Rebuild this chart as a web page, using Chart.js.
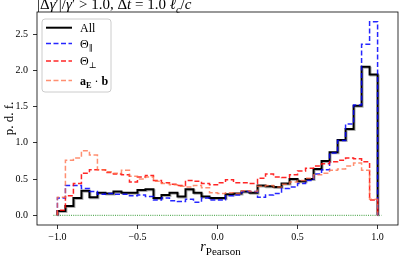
<!DOCTYPE html>
<html>
<head>
<meta charset="utf-8">
<script src="https://cdn.jsdelivr.net/npm/chart.js@4.4.1/dist/chart.umd.min.js"></script>
<style>
  html, body { margin: 0; padding: 0; background: #fff; }
  #wrap { width: 399px; height: 257px; }
</style>
</head>
<body>
<div id="wrap"><canvas id="myChart"></canvas></div>
<script>
// histogram bin edges (r_Pearson), 0.05 wide
const binEdges = [-1.0, -0.95, -0.9, -0.85, -0.8, -0.75, -0.7, -0.65, -0.6, -0.55,
                  -0.5, -0.45, -0.4, -0.35, -0.3, -0.25, -0.2, -0.15, -0.1, -0.05,
                  0.0, 0.05, 0.1, 0.15, 0.2, 0.25, 0.3, 0.35, 0.4, 0.45,
                  0.5, 0.55, 0.6, 0.65, 0.7, 0.75, 0.8, 0.85, 0.9, 0.95, 1.0];

const allPdf = [0.06, 0.13, 0.24, 0.34, 0.25, 0.31, 0.30, 0.33, 0.31, 0.31,
                0.35, 0.36, 0.24, 0.28, 0.31, 0.26, 0.36, 0.31, 0.26, 0.24,
                0.24, 0.29, 0.30, 0.33, 0.31, 0.41, 0.40, 0.39, 0.44, 0.50,
                0.47, 0.50, 0.64, 0.75, 0.87, 1.04, 1.19, 1.51, 2.05, 1.94];

const thetaParPdf = [0.24, 0.41, 0.41, 0.37, 0.33, 0.29, 0.30, 0.29, 0.29, 0.27,
                     0.28, 0.26, 0.21, 0.24, 0.20, 0.19, 0.22, 0.18, 0.24, 0.21,
                     0.21, 0.27, 0.28, 0.33, 0.33, 0.25, 0.28, 0.30, 0.37, 0.39,
                     0.44, 0.48, 0.57, 0.63, 0.86, 1.03, 1.26, 1.52, 2.36, 2.67];

const thetaPerpPdf = [0.07, 0.27, 0.44, 0.58, 0.63, 0.63, 0.59, 0.57, 0.56, 0.46,
                      0.53, 0.55, 0.48, 0.45, 0.43, 0.41, 0.48, 0.47, 0.44, 0.42,
                      0.45, 0.49, 0.45, 0.45, 0.44, 0.51, 0.57, 0.53, 0.52, 0.56,
                      0.61, 0.65, 0.68, 0.71, 0.74, 0.76, 0.79, 0.78, 0.74, 0.21];

const aEbPdf = [0.25, 0.76, 0.79, 0.89, 0.83, 0.63, 0.60, 0.58, 0.62, 0.54,
                0.50, 0.53, 0.47, 0.44, 0.42, 0.40, 0.39, 0.41, 0.38, 0.31,
                0.30, 0.31, 0.30, 0.34, 0.33, 0.40, 0.41, 0.39, 0.43, 0.46,
                0.48, 0.51, 0.56, 0.58, 0.62, 0.64, 0.68, 0.72, 0.62, 0.22];

const zeroLineX = [-1.025, 1.025];
const xTicks = [-1.0, -0.5, 0.0, 0.5, 1.0];
const yTicks = [0.0, 0.5, 1.0, 1.5, 2.0, 2.5];

const SERIF = '"Liberation Serif", "DejaVu Serif", serif';

// step outline: up from 0 at first edge, flat over each bin, back to 0 at last edge
function stepPoints(vals) {
    const pts = [{ x: binEdges[0], y: 0 }];
    vals.forEach((v, i) => pts.push({ x: binEdges[i], y: v }));
    pts.push({ x: binEdges[binEdges.length - 1], y: 0 });
    return pts;
}

const series = [
    { label: 'All', data: allPdf, color: '#000000', width: 2, dash: [], order: 4 },
    { label: 'Θ∥', data: thetaParPdf, color: 'rgba(0,0,255,0.85)', width: 1.5, dash: [5, 2.5], order: 3 },
    { label: 'Θ⊥', data: thetaPerpPdf, color: 'rgba(255,0,0,0.85)', width: 1.5, dash: [5, 2.5], order: 2 },
    { label: 'aE · b', data: aEbPdf, color: 'rgba(255,105,65,0.75)', width: 1.5, dash: [5, 2.5], order: 1 }
];

// draw text made of styled pieces (italic / bold / subscript)
function richText(ctx, x, y, parts, size, subScale, subDrop) {
    subScale = subScale || 0.7;
    subDrop = subDrop || 0.25;
    let cx = x;
    parts.forEach(p => {
        const s = p.sub ? size * subScale : size;
        const st = (p.i ? 'italic ' : '') + (p.b ? 'bold ' : '');
        ctx.font = `${st}${s}px ${SERIF}`;
        ctx.fillText(p.t, cx, p.sub ? y + size * subDrop : y);
        cx += ctx.measureText(p.t).width;
    });
    return cx;
}

const extras = {
    id: 'extras',
    beforeDatasetDraw(chart, args) {
        if (args.index === 0) {
            const ctx = chart.ctx;
            ctx.save();
            ctx.shadowColor = 'rgba(120,120,120,0.6)';
            ctx.shadowOffsetX = 1;
            ctx.shadowOffsetY = 1;
        }
    },
    afterDatasetDraw(chart, args) {
        if (args.index === 0) chart.ctx.restore();
    },
    afterDraw(chart) {
        const ctx = chart.ctx;
        const a = chart.chartArea;
        ctx.save();
        // spines
        ctx.strokeStyle = '#000';
        ctx.lineWidth = 0.8;
        ctx.strokeRect(a.left, a.top, a.right - a.left, a.bottom - a.top);

        ctx.fillStyle = '#000';
        ctx.textBaseline = 'alphabetic';
        ctx.textAlign = 'left';
        // title (left aligned, clipped by the top of the figure)
        richText(ctx, a.left, 9, [
            { t: '|Δ' }, { t: 'γ', i: 1 }, { t: '′|/' }, { t: 'γ', i: 1 },
            { t: '′ > 1.0, Δ' }, { t: 't', i: 1 }, { t: ' = 1.0 ' },
            { t: 'ℓ', i: 1 }, { t: 'c', i: 1, sub: 1 }, { t: '/' }, { t: 'c', i: 1 }
        ], 15);

        // x axis label
        ctx.font = `italic 14px ${SERIF}`;
        const w1 = ctx.measureText('r').width;
        ctx.font = `11px ${SERIF}`;
        const w2 = ctx.measureText('Pearson').width;
        const xm = (a.left + a.right) / 2 + 3;
        richText(ctx, xm - (w1 + w2) / 2, 251, [{ t: 'r', i: 1 }, { t: 'Pearson', sub: 1 }], 14, 11 / 14, 0.25);

        // legend
        const lx = 42, ly = 19, lw = 69, lh = 73, r = 3;
        ctx.beginPath();
        ctx.moveTo(lx + r, ly);
        ctx.arcTo(lx + lw, ly, lx + lw, ly + lh, r);
        ctx.arcTo(lx + lw, ly + lh, lx, ly + lh, r);
        ctx.arcTo(lx, ly + lh, lx, ly, r);
        ctx.arcTo(lx, ly, lx + lw, ly, r);
        ctx.closePath();
        ctx.fillStyle = 'rgba(255,255,255,0.8)';
        ctx.fill();
        ctx.strokeStyle = '#cccccc';
        ctx.lineWidth = 1;
        ctx.stroke();

        const rows = [27.7, 43.5, 61, 80.5];
        const labels = [
            [{ t: 'All' }],
            [{ t: 'Θ' }, { t: '∥', sub: 1 }],
            [{ t: 'Θ' }, { t: '⊥', sub: 1 }],
            [{ t: 'a', b: 1 }, { t: 'E', b: 1, sub: 1 }, { t: ' · ' }, { t: 'b', b: 1 }]
        ];
        series.forEach((s, i) => {
            ctx.beginPath();
            ctx.setLineDash(s.dash);
            ctx.strokeStyle = s.color;
            ctx.lineWidth = s.width;
            ctx.moveTo(46, rows[i]);
            ctx.lineTo(72, rows[i]);
            ctx.stroke();
            ctx.setLineDash([]);
            ctx.fillStyle = '#000';
            richText(ctx, 80, rows[i] + 4, labels[i], 12);
        });
        ctx.restore();
    }
};

const datasets = series.map(s => ({
    label: s.label,
    data: stepPoints(s.data),
    borderColor: s.color,
    borderWidth: s.width,
    borderDash: s.dash,
    stepped: 'before',
    pointRadius: 0,
    fill: false,
    order: s.order
}));
datasets.push({
    label: 'zero',
    data: zeroLineX.map(x => ({ x: x, y: 0 })),
    borderColor: 'green',
    borderWidth: 0.8,
    borderDash: [1, 1.2],
    pointRadius: 0,
    fill: false,
    order: 5
});

const ctx = document.getElementById('myChart');
new Chart(ctx, {
    type: 'line',
    data: { datasets: datasets },
    options: {
        responsive: true,
        maintainAspectRatio: false,
        devicePixelRatio: 1,
        animation: false,
        layout: { padding: { top: 12, right: 1, left: 0, bottom: 0 } },
        plugins: {
            legend: { display: false },
            tooltip: { enabled: false }
        },
        scales: {
            x: {
                type: 'linear',
                min: -1.1275,
                max: 1.1275,
                afterBuildTicks: sc => { sc.ticks = xTicks.map(v => ({ value: v })); },
                afterFit: sc => { sc.height = 32; },
                grid: { drawOnChartArea: false, drawTicks: true, tickLength: 4, tickColor: '#000', lineWidth: 0.8 },
                border: { display: false },
                ticks: {
                    color: '#000',
                    padding: 2,
                    maxRotation: 0,
                    font: { family: SERIF, size: 10 },
                    callback: v => (v < 0 ? '−' : '') + Math.abs(v).toFixed(1)
                }
            },
            y: {
                min: -0.1335,
                max: 2.8035,
                afterBuildTicks: sc => { sc.ticks = yTicks.map(v => ({ value: v })); },
                afterFit: sc => { sc.width = 37; },
                grid: { drawOnChartArea: false, drawTicks: true, tickLength: 4, tickColor: '#000', lineWidth: 0.8 },
                border: { display: false },
                title: {
                    display: true,
                    text: 'p. d. f.',
                    color: '#000',
                    font: { family: SERIF, size: 13 },
                    padding: { top: 2, bottom: 0 }
                },
                ticks: {
                    color: '#000',
                    padding: 5,
                    font: { family: SERIF, size: 10 },
                    callback: v => v.toFixed(1)
                }
            }
        }
    },
    plugins: [extras]
});
</script>
</body>
</html>
